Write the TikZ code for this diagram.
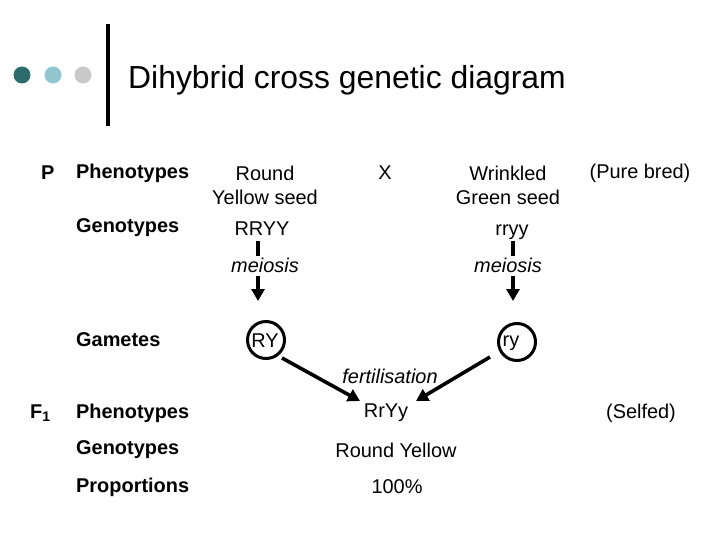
\documentclass[tikz,border=0pt]{standalone}
\usepackage{fontspec}
\setmainfont{Liberation Sans}
\usetikzlibrary{arrows.meta}
\begin{document}
\begin{tikzpicture}[x=1bp,y=-1bp,
  txt/.style={inner sep=0pt,font=\fontsize{20}{23}\selectfont},
  even/.style={text height=14.4bp,text depth=4.2bp},
  lbl/.style={txt,anchor=west,font=\fontsize{20}{23}\selectfont\bfseries},
  itl/.style={txt,font=\fontsize{20}{23}\selectfont\itshape},
  gam/.style={draw,circle,inner sep=0pt,line width=3pt,minimum size=37bp},
  arr/.style={line width=3.6pt,-{Triangle[length=12bp,width=13bp]}},
  seg/.style={line width=3.6pt}]
\useasboundingbox (0,0) rectangle (720,540);
\definecolor{dotA}{HTML}{2E6C6C}
\definecolor{dotB}{HTML}{92C6CE}
\definecolor{dotC}{HTML}{C9C9C9}
\fill[dotA] (22,75) circle (8.5);
\fill[dotB] (53,75) circle (8.5);
\fill[dotC] (83,75) circle (8.5);
\draw[line width=3.5pt] (108,24) -- (108,126);
\node[anchor=west,inner sep=0pt,font=\fontsize{32}{35}\selectfont] (title) at (128,80) {Dihybrid cross genetic diagram};
\node[lbl] (P) at (41,173) {P};
\node[lbl] (ph1) at (76,173) {Phenotypes};
\node[txt,align=center] (ry1) at (265,185) {Round\\[1pt]Yellow seed};
\node[txt] (X) at (385,173) {X};
\node[txt,align=center] (wg) at (508,185) {Wrinkled\\[1pt]Green seed};
\node[txt] (pb) at (640,173) {(Pure bred)};
\node[lbl] (ge1) at (76,228) {Genotypes};
\node[txt,even] (RRYY) at (262,230) {RRYY};
\node[txt,even] (rryy) at (512,230) {rryy};
\node[itl] (m1) at (265,265) {meiosis};
\node[itl] (m2) at (508,265) {meiosis};
\node[lbl] (gam) at (76,340) {Gametes};
\node[gam] (RY) at (266,340) {};
\node[txt,even] (RYt) at (265,342) {RY};
\node[gam] (ry) at (517,342) {};
\node[txt,even] (ryt) at (511,341) {ry};
\node[itl] (fert) at (390,376) {fertilisation};
\node[lbl] (F1) at (30,413) {F$_{\mathbf 1}$};
\node[lbl] (ph2) at (76,413) {Phenotypes};
\node[txt] (RrYy) at (386,413) {RrYy};
\node[txt] (self) at (641,413) {(Selfed)};
\node[lbl] (ge2) at (76,450) {Genotypes};
\node[txt] (RYel) at (396,450) {Round Yellow};
\node[lbl] (pr) at (76,487) {Proportions};
\node[txt] (pc) at (397,487) {100\%};
\coordinate (a1) at (258,241);
\coordinate (a2) at (258,256);
\coordinate (a3) at (258,276);
\coordinate (a4) at (258,301);
\coordinate (b1) at (513,241);
\coordinate (b2) at (513,256);
\coordinate (b3) at (513,276);
\coordinate (b4) at (513,301);
\draw[seg] (a1) -- (a2);
\draw[arr] (a3) -- (a4);
\draw[seg] (b1) -- (b2);
\draw[arr] (b3) -- (b4);
\coordinate (c1) at (282,358);
\coordinate (c2) at (360,401);
\coordinate (d1) at (490,357);
\coordinate (d2) at (416,401);
\draw[arr] (c1) -- (c2);
\draw[arr] (d1) -- (d2);
\end{tikzpicture}
\end{document}
